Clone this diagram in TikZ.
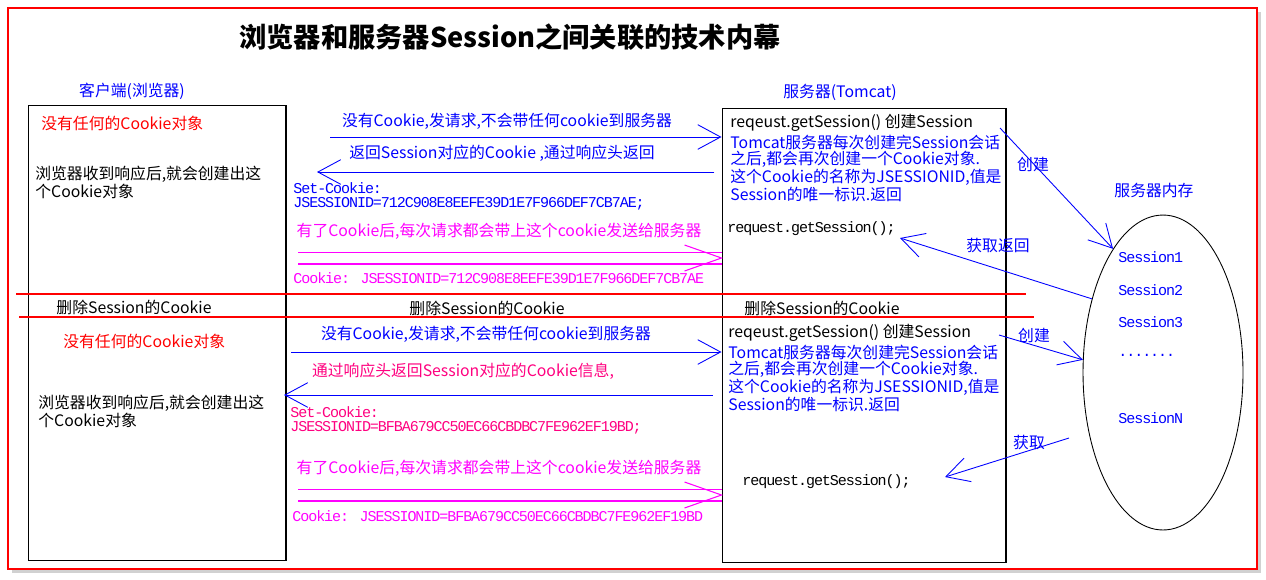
\documentclass[tikz,border=0pt]{standalone}
\usepackage{fontspec}
\setmainfont{Noto Sans CJK SC}
\newfontfamily\codefont[Scale=0.95,LetterSpace=-7]{Liberation Mono}
\usetikzlibrary{arrows.meta,calc,shapes.geometric}
\definecolor{tBlue}{RGB}{0,0,255}
\definecolor{tRed}{RGB}{255,0,0}
\definecolor{tMag}{RGB}{255,0,255}
\definecolor{tPink}{RGB}{255,0,128}
\tikzset{
  note/.style={anchor=west, inner sep=0pt},
  para/.style={anchor=north west, inner sep=0pt, align=left},
  code/.style={note, font=\codefont},
  frame/.style={draw, line width=0.6pt, inner sep=0pt},
  sepline/.style={tRed, line width=0.6pt},
  reqarrow/.style={tBlue, line width=0.5pt, -{Straight Barb[length=13pt,width=14pt]}},
  cookieline/.style={tMag, line width=0.6pt},
}

\begin{document}
\fontsize{9}{8.8}\selectfont
\begin{tikzpicture}[x=0.02cm, y=-0.02cm]
    \useasboundingbox (0,0) rectangle (1266,579);
    \fill[black!18] (12,12) rectangle (1261,573);
    \draw[tRed, fill=white, line width=0.8pt] (8,8) rectangle (1257,569);

    \node[font=\fontsize{15.5}{16}\selectfont\bfseries] (title) at (510,37) {浏览器和服务器Session之间关联的技术内幕};
    \node[tBlue] (clientlbl) at (132,91) {客户端(浏览器)};
    \node[tBlue] (serverlbl) at (840,92) {服务器(Tomcat)};
    \node[tBlue] (memlbl) at (1154,190) {服务器内存};

    \node[frame, minimum width=5.15cm, minimum height=9.12cm] (client) at (157.25,333) {};
    \node[frame, minimum width=5.68cm, minimum height=9.1cm] (server) at (864,335.5) {};
    \node[draw, ellipse, line width=0.5pt, inner sep=0pt, minimum width=3.2cm, minimum height=6.3cm] (mem) at (1163,372.5) {};

    \draw[sepline] (16,294) -- (1026,294);
    \draw[sepline] (19,317) -- (1034,317);
    \node (del1) at (134,307) {删除Session的Cookie};
    \node (del2) at (487,308) {删除Session的Cookie};
    \node (del3) at (822,308) {删除Session的Cookie};

    % first visit
    \node[note, tRed] (none1) at (41,123) {没有任何的Cookie对象};
    \node[para] (recv1) at (35,166) {浏览器收到响应后,就会创建出这\\个Cookie对象};

    \node[tBlue] (req1lbl) at (507,121) {没有Cookie,发请求,不会带任何cookie到服务器};
    \coordinate (r1) at (330,137);
    \draw[reqarrow] (r1) -- (r1 -| server.west);
    \node[tBlue] (resp1lbl) at (502,153) {返回Session对应的Cookie ,通过响应头返回};
    \coordinate (s1) at (317,172);
    \draw[reqarrow] ([xshift=-4pt]s1 -| server.west) -- (s1);
    \node[code, tBlue] (set1) at (293,188) {Set-Cookie:};
    \node[code, tBlue] (id1) at (293,204) {JSESSIONID=712C908E8EEFE39D1E7F966DEF7CB7AE;};

    \node[tMag] (carry1) at (499,231) {有了Cookie后,每次请求都会带上这个cookie发送给服务器};
    \coordinate (c1) at (298,258);
    \coordinate (c1tip) at (c1 -| server.west);
    \draw[cookieline] ([yshift=3.4pt]c1) -- ([yshift=3.4pt]c1tip);
    \draw[cookieline] ([yshift=-3.4pt]c1) -- ([yshift=-3.4pt]c1tip);
    \draw[cookieline] ($(c1tip)+(-37,-13)$) -- (c1tip) -- ($(c1tip)+(-37,13)$);
    \node[code, tMag] (ck1) at (293,278) {Cookie: JSESSIONID=712C908E8EEFE39D1E7F966DEF7CB7AE};

    \node[note] (create1) at (730,123) {reqeust.getSession() 创建Session};
    \node[para, tBlue] (info1) at (730,135) {Tomcat服务器每次创建完Session会话\\之后,都会再次创建一个Cookie对象.\\这个Cookie的名称为JSESSIONID,值是\\Session的唯一标识.返回};
    \node[code] (get1) at (727,229) {request.getSession();};

    \coordinate (cr1) at (1000,128);
    \draw[reqarrow] (cr1) -- (mem.112);
    \node[tBlue] (make1) at (1033,164) {创建};
    \coordinate (get1tip) at (900,238);
    \draw[reqarrow] (mem.134) -- (get1tip);
    \node[tBlue] (fetch1) at (998,245) {获取返回};

    % after the cookie is deleted
    \node[note, tRed] (none2) at (63,341) {没有任何的Cookie对象};
    \node[para] (recv2) at (38,395) {浏览器收到响应后,就会创建出这\\个Cookie对象};

    \node[tBlue] (req2lbl) at (486,334) {没有Cookie,发请求,不会带任何cookie到服务器};
    \coordinate (r2) at (291,352);
    \draw[reqarrow] (r2) -- (r2 -| server.west);
    \node[tPink] (resp2lbl) at (463,371) {通过响应头返回Session对应的Cookie信息,};
    \coordinate (s2) at (284,395);
    \draw[reqarrow] ([xshift=-5pt]s2 -| server.west) -- (s2);
    \node[code, tPink] (set2) at (290,412) {Set-Cookie:};
    \node[code, tPink] (id2) at (290,428) {JSESSIONID=BFBA679CC50EC66CBDBC7FE962EF19BD;};

    \node[tMag] (carry2) at (499,468) {有了Cookie后,每次请求都会带上这个cookie发送给服务器};
    \coordinate (c2) at (298,495);
    \coordinate (c2tip) at (c2 -| server.west);
    \draw[cookieline] ([yshift=3.4pt]c2) -- ([yshift=3.4pt]c2tip);
    \draw[cookieline] ([yshift=-3.4pt]c2) -- ([yshift=-3.4pt]c2tip);
    \draw[cookieline] ($(c2tip)+(-37,-13)$) -- (c2tip) -- ($(c2tip)+(-37,13)$);
    \node[code, tMag] (ck2) at (292,516) {Cookie: JSESSIONID=BFBA679CC50EC66CBDBC7FE962EF19BD};

    \node[note] (create2) at (728,333) {reqeust.getSession() 创建Session};
    \node[para, tBlue] (info2) at (728,345) {Tomcat服务器每次创建完Session会话\\之后,都会再次创建一个Cookie对象.\\这个Cookie的名称为JSESSIONID,值是\\Session的唯一标识.返回};
    \node[code] (get2) at (742,482) {request.getSession();};

    \coordinate (cr2) at (999,335);
    \draw[reqarrow] (cr2) -- (mem.171);
    \node[tBlue] (make2) at (1034,335) {创建};
    \coordinate (f2) at (1069,438);
    \coordinate (get2tip) at (945,477);
    \draw[reqarrow] (f2) -- (get2tip);
    \node[tBlue] (fetch2) at (1029,442) {获取};

    % sessions kept in memory
    \foreach \i/\y in {1/257,2/290,3/322} {
        \node[code, tBlue] (sess\i) at (1118,\y) {Session\i};
    }
    \node[code, tBlue] (dots) at (1118,355) {.......};
    \node[code, tBlue] (sessN) at (1118,418) {SessionN};
\end{tikzpicture}
\end{document}
